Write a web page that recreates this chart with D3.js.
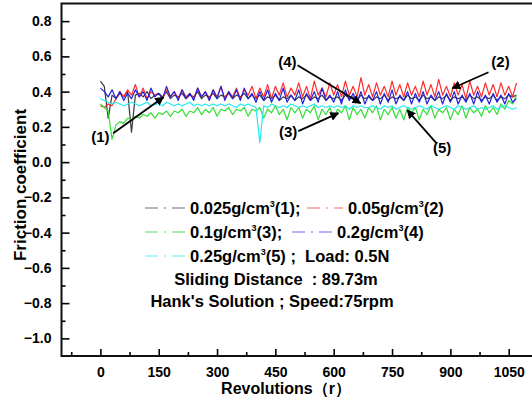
<!DOCTYPE html>
<html><head><meta charset="utf-8">
<script src="https://cdn.jsdelivr.net/npm/d3@7/dist/d3.min.js"></script>
<style>
html,body{margin:0;padding:0;background:#fff;}
svg text{font-family:"Liberation Sans",Arial,sans-serif;font-weight:bold;fill:#000;}
</style></head>
<body><svg id="c" width="532" height="404"></svg>
<script>
// ---- data (revolutions every 10 r, from 0 to 1070) ----
const revolutions = d3.range(0, 1080, 10);
const s1_0025 = [
 0.46,0.43,0.25,0.38,0.36,0.39,0.37,0.40,0.17,0.38,
 0.39,0.37,0.40,0.36,0.38,0.39,0.37,0.40,0.36,0.38,
 0.37,0.39,0.36,0.38,0.37,0.40,0.36,0.38,0.37,0.39,
 0.36,0.38,0.37,0.39,0.36,0.38,0.37,0.39,0.36,0.38,
 0.36,0.38,0.35,0.37,0.36,0.38,0.35,0.37,0.36,0.38,
 0.35,0.37,0.36,0.38,0.35,0.37,0.36,0.38,0.35,0.37,
 0.36,0.37,0.35,0.38,0.36,0.37,0.35,0.38,0.36,0.37,
 0.35,0.37,0.36,0.38,0.35,0.37,0.36,0.37,0.35,0.38,
 0.36,0.37,0.35,0.38,0.36,0.37,0.35,0.37,0.36,0.38,
 0.35,0.37,0.36,0.37,0.35,0.38,0.36,0.37,0.35,0.37,
 0.36,0.38,0.35,0.37,0.36,0.38,0.37,0.38];
const s2_005 = [
 0.32,0.31,0.33,0.32,0.36,0.40,0.37,0.41,0.38,0.44,
 0.37,0.42,0.36,0.40,0.38,0.39,0.36,0.41,0.37,0.40,
 0.36,0.41,0.37,0.39,0.36,0.42,0.37,0.40,0.36,0.41,
 0.37,0.43,0.36,0.40,0.37,0.42,0.36,0.41,0.38,0.43,
 0.36,0.42,0.37,0.44,0.36,0.43,0.38,0.45,0.37,0.42,
 0.38,0.45,0.37,0.43,0.36,0.46,0.38,0.42,0.37,0.45,
 0.38,0.44,0.37,0.46,0.38,0.43,0.37,0.48,0.38,0.44,
 0.37,0.45,0.38,0.43,0.37,0.46,0.38,0.44,0.37,0.45,
 0.38,0.43,0.37,0.46,0.38,0.44,0.37,0.47,0.38,0.43,
 0.37,0.45,0.38,0.44,0.36,0.46,0.38,0.43,0.37,0.45,
 0.38,0.44,0.37,0.45,0.38,0.43,0.37,0.45];
const s3_01 = [
 0.33,0.31,0.29,0.13,0.21,0.23,0.22,0.25,0.24,0.26,
 0.25,0.27,0.26,0.28,0.25,0.28,0.27,0.29,0.26,0.29,
 0.28,0.30,0.26,0.29,0.28,0.31,0.27,0.30,0.28,0.31,
 0.26,0.30,0.29,0.31,0.27,0.30,0.29,0.31,0.26,0.30,
 0.29,0.31,0.25,0.30,0.28,0.32,0.27,0.30,0.24,0.31,
 0.28,0.31,0.25,0.30,0.28,0.32,0.24,0.30,0.27,0.31,
 0.25,0.30,0.28,0.32,0.24,0.31,0.27,0.30,0.25,0.31,
 0.28,0.32,0.24,0.30,0.27,0.31,0.25,0.30,0.24,0.31,
 0.28,0.31,0.24,0.30,0.27,0.32,0.25,0.30,0.28,0.31,
 0.24,0.30,0.27,0.32,0.25,0.31,0.28,0.30,0.26,0.32,
 0.28,0.31,0.27,0.33,0.30,0.35,0.33,0.38];
const s4_02 = [
 0.42,0.40,0.37,0.41,0.36,0.40,0.35,0.39,0.36,0.41,
 0.37,0.40,0.35,0.42,0.37,0.39,0.36,0.43,0.37,0.40,
 0.35,0.41,0.36,0.39,0.35,0.42,0.37,0.40,0.35,0.41,
 0.36,0.43,0.35,0.40,0.36,0.41,0.35,0.42,0.36,0.39,
 0.34,0.40,0.35,0.41,0.34,0.39,0.35,0.42,0.34,0.38,
 0.35,0.41,0.33,0.39,0.35,0.40,0.34,0.42,0.35,0.38,
 0.34,0.40,0.33,0.41,0.35,0.39,0.34,0.40,0.33,0.38,
 0.35,0.40,0.33,0.39,0.34,0.41,0.33,0.38,0.35,0.40,
 0.33,0.39,0.34,0.40,0.33,0.38,0.35,0.40,0.33,0.39,
 0.34,0.40,0.33,0.38,0.34,0.39,0.33,0.40,0.34,0.38,
 0.33,0.39,0.34,0.38,0.33,0.39,0.34,0.36];
const s5_025 = [
 0.36,0.35,0.34,0.33,0.34,0.33,0.32,0.33,0.34,0.33,
 0.32,0.33,0.34,0.32,0.33,0.33,0.32,0.34,0.33,0.32,
 0.33,0.32,0.33,0.34,0.32,0.33,0.32,0.33,0.32,0.33,
 0.32,0.33,0.32,0.33,0.32,0.31,0.33,0.32,0.33,0.32,
 0.31,0.11,0.32,0.31,0.33,0.32,0.31,0.32,0.31,0.33,
 0.32,0.31,0.32,0.31,0.32,0.33,0.31,0.32,0.31,0.32,
 0.31,0.32,0.31,0.32,0.30,0.32,0.31,0.32,0.31,0.31,
 0.32,0.31,0.30,0.32,0.31,0.32,0.30,0.31,0.32,0.31,
 0.30,0.31,0.32,0.31,0.30,0.32,0.31,0.30,0.31,0.32,
 0.31,0.30,0.32,0.31,0.30,0.31,0.32,0.30,0.31,0.30,
 0.31,0.32,0.30,0.31,0.32,0.31,0.30,0.31];

const seriesNames = ["0.025g/cm3(1)", "0.05g/cm3(2)", "0.1g/cm3(3)", "0.2g/cm3(4)", "0.25g/cm3(5)"];
const seriesColors = ["#3a3a3a", "#ff2a2a", "#33dd33", "#2020dd", "#22e8f0"];
const legendColors = ["#a0a0a0", "#f29a9a", "#8fe88f", "#9a9af0", "#8ff4f8"];
const xTickValues = [0, 150, 300, 450, 600, 750, 900, 1050];
const yTickValues = [-1.0, -0.8, -0.6, -0.4, -0.2, 0.0, 0.2, 0.4, 0.6, 0.8];
// annotation labels with arrow start/end in data units
const annotations = [
 {t:"(1)", lx:0,    ly:0.145, x1:33,  y1:0.164, x2:162, y2:0.368},
 {t:"(4)", lx:481,  ly:0.567, x1:507, y1:0.550, x2:669, y2:0.334},
 {t:"(2)", lx:1029, ly:0.567, x1:998, y1:0.510, x2:905, y2:0.419},
 {t:"(3)", lx:483,  ly:0.170, x1:509, y1:0.176, x2:612, y2:0.278},
 {t:"(5)", lx:879,  ly:0.079, x1:864, y1:0.108, x2:789, y2:0.295}
];

const allSeries = [s1_0025, s2_005, s3_01, s4_02, s5_025];

const svg = d3.select("#c");
const x = d3.scaleLinear().domain([-100, 1150]).range([61.5, 547.6]);
const y = d3.scaleLinear().domain([-1.1, 0.9]).range([356, 3.5]);

// series
const line = d3.line().x((d,i)=>x(revolutions[i])).y(d=>y(d));
const gS = svg.append("g");
allSeries.forEach((s,k)=>{
  gS.append("path").datum(s).attr("d", line)
    .attr("fill","none").attr("stroke",seriesColors[k]).attr("stroke-width",1.2)
    .attr("stroke-linejoin","round");
});

// axes with inward ticks
const xMinor = d3.range(-75, 1150, 150);
const yMinor = d3.range(-9, 8, 2).map(v=>v/10);
const gx = svg.append("g").attr("transform",`translate(0,${y.range()[0]})`);
gx.call(d3.axisBottom(x).tickValues(xTickValues).tickSize(-7).tickPadding(11).tickFormat(d3.format("d")));
gx.append("g").call(d3.axisBottom(x).tickValues(xMinor).tickSize(-4).tickFormat(""));
const gy = svg.append("g").attr("transform",`translate(${x.range()[0]},0)`);
gy.call(d3.axisLeft(y).tickValues(yTickValues).tickSize(-8).tickPadding(10).tickFormat(d3.format(".1f")));
gy.append("g").call(d3.axisLeft(y).tickValues(yMinor).tickSize(-4).tickFormat(""));
svg.selectAll(".domain").remove();
svg.selectAll(".tick line").attr("stroke","#000").attr("stroke-width",1.6);
svg.selectAll(".tick text").attr("font-size",14).style("font-family","'Liberation Sans',Arial,sans-serif").style("font-weight","bold").attr("fill","#000");
// frame
svg.append("rect").attr("x",x.range()[0]).attr("y",y.range()[1])
  .attr("width",x.range()[1]-x.range()[0]).attr("height",y.range()[0]-y.range()[1])
  .attr("fill","none").attr("stroke","#111").attr("stroke-width",2);

// axis titles
svg.append("text").attr("x",286).attr("y",394).attr("text-anchor","middle").attr("font-size",16).text("Revolutions（r）");
svg.append("text").attr("transform",`translate(26,${185}) rotate(-90)`).attr("text-anchor","middle").attr("font-size",17).text("Friction coefficient");

// arrows
const defs = svg.append("defs");
defs.append("marker").attr("id","ah").attr("viewBox","0 0 10 10").attr("refX",9).attr("refY",5)
  .attr("markerWidth",9).attr("markerHeight",9).attr("markerUnits","userSpaceOnUse").attr("orient","auto")
  .append("path").attr("d","M0,0 L10,5 L0,10 z").attr("fill","#000");
annotations.forEach(a=>{
  svg.append("line").attr("x1",x(a.x1)).attr("y1",y(a.y1)).attr("x2",x(a.x2)).attr("y2",y(a.y2))
    .attr("stroke","#000").attr("stroke-width",1.8).attr("marker-end","url(#ah)");
  svg.append("text").attr("x",x(a.lx)).attr("y",y(a.ly)+5).attr("text-anchor","middle").attr("font-size",15).text(a.t);
});

// legend
function supText(sel, parts){
  parts.forEach(p=>{
    if(p[1]) sel.append("tspan").attr("font-size",9).attr("dy",-7).text(p[0]);
    else sel.append("tspan").attr("dy", p[2]||0).text(p[0]);
  });
}
function legLine(x0,x1,yy,col){
  svg.append("line").attr("x1",x0).attr("x2",x1).attr("y1",yy).attr("y2",yy)
    .attr("stroke",col).attr("stroke-width",1.3).attr("stroke-dasharray","13,6,2,6,13");
}
const fs = 16.5;
legLine(145,185,208,legendColors[0]);
supText(svg.append("text").attr("x",190).attr("y",214).attr("font-size",fs),[["0.025g/cm"],["3",1],["(1);",0,7]]);
legLine(307,343,208,legendColors[1]);
supText(svg.append("text").attr("x",348).attr("y",214).attr("font-size",fs),[["0.05g/cm"],["3",1],["(2)",0,7]]);
legLine(145,185,232,legendColors[2]);
supText(svg.append("text").attr("x",190).attr("y",238).attr("font-size",fs),[["0.1g/cm"],["3",1],["(3);",0,7]]);
legLine(292,333,232,legendColors[3]);
supText(svg.append("text").attr("x",337).attr("y",238).attr("font-size",fs),[["0.2g/cm"],["3",1],["(4)",0,7]]);
legLine(145,185,256,legendColors[4]);
supText(svg.append("text").attr("x",190).attr("y",262).attr("font-size",fs).attr("xml:space","preserve"),[["0.25g/cm"],["3",1],["(5) ;  Load: 0.5N",0,7]]);
svg.append("text").attr("x",276).attr("y",285).attr("text-anchor","middle").attr("font-size",fs).attr("xml:space","preserve").text("Sliding Distance  : 89.73m");
svg.append("text").attr("x",272).attr("y",307).attr("text-anchor","middle").attr("font-size",fs).text("Hank's Solution ; Speed:75rpm");
</script></body></html>
